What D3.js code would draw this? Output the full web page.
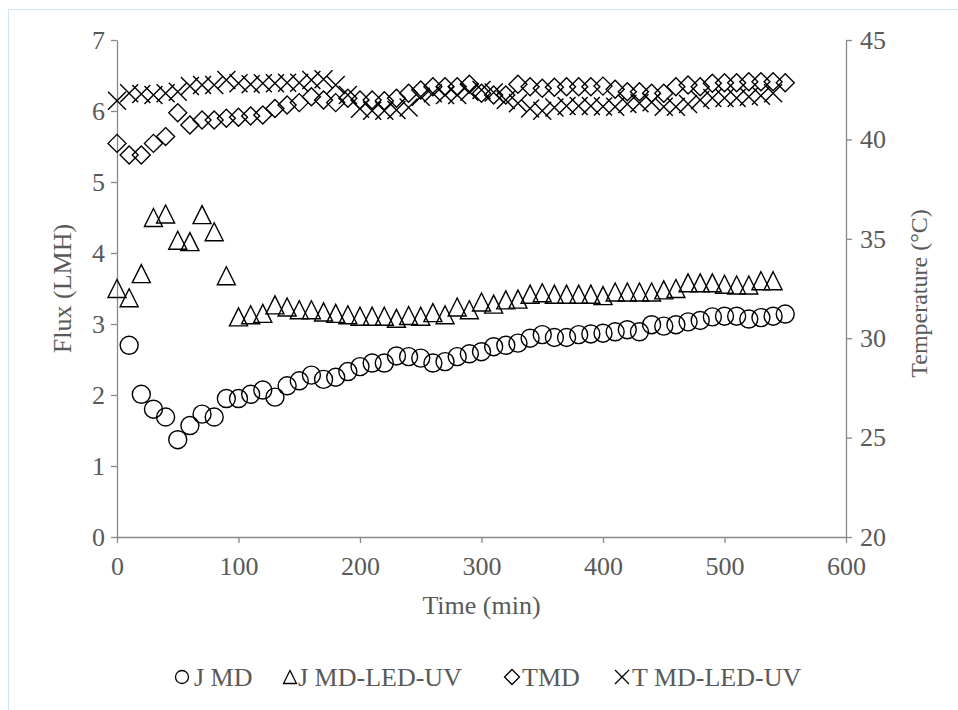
<!DOCTYPE html>
<html>
<head>
<meta charset="utf-8">
<script src="https://cdn.jsdelivr.net/npm/d3@7"></script>
<style>
  html, body { margin: 0; padding: 0; background: #fff; }
  text { font-family: "Liberation Serif", "Times New Roman", serif; }
</style>
</head>
<body>
<div id="chart"></div>
<script>
// J MD flux (LMH), circles
const jmdTime = [10, 20, 30, 40, 50, 60, 70, 80, 90, 100, 110, 120, 130, 140, 150, 160, 170, 180, 190, 200,
  210, 220, 230, 240, 250, 260, 270, 280, 290, 300, 310, 320, 330, 340, 350, 360, 370, 380, 390, 400,
  410, 420, 430, 440, 450, 460, 470, 480, 490, 500, 510, 520, 530, 540, 550]
const jmdFlux = [2.70, 2.01, 1.80, 1.69, 1.37, 1.57, 1.73, 1.69, 1.95, 1.95, 2.01, 2.07, 1.97, 2.13, 2.20, 2.28, 2.22, 2.25, 2.33, 2.40,
  2.45, 2.45, 2.55, 2.54, 2.52, 2.45, 2.47, 2.54, 2.58, 2.61, 2.68, 2.70, 2.73, 2.80, 2.85, 2.81, 2.81, 2.85, 2.86, 2.87,
  2.89, 2.92, 2.89, 2.99, 2.97, 2.99, 3.03, 3.05, 3.10, 3.11, 3.11, 3.07, 3.09, 3.11, 3.14]

// J MD-LED-UV flux (LMH), triangles
const ledTime = [0, 10, 20, 30, 40, 50, 60, 70, 80, 90, 100, 110, 120, 130, 140, 150, 160, 170, 180, 190,
  200, 210, 220, 230, 240, 250, 260, 270, 280, 290, 300, 310, 320, 330, 340, 350, 360, 370, 380, 390,
  400, 410, 420, 430, 440, 450, 460, 470, 480, 490, 500, 510, 520, 530, 540]
const ledFlux = [3.50, 3.37, 3.71, 4.50, 4.55, 4.18, 4.16, 4.54, 4.30, 3.68, 3.10, 3.13, 3.15, 3.27, 3.24, 3.20, 3.20, 3.17, 3.15, 3.13,
  3.11, 3.11, 3.11, 3.08, 3.12, 3.11, 3.16, 3.13, 3.24, 3.20, 3.31, 3.28, 3.34, 3.35, 3.42, 3.44, 3.42, 3.42, 3.42, 3.42,
  3.40, 3.45, 3.45, 3.45, 3.45, 3.48, 3.50, 3.58, 3.58, 3.58, 3.56, 3.55, 3.55, 3.61, 3.61]

// TMD temperature (°C), diamonds
const tmdTime = [0, 10, 20, 30, 40, 50, 60, 70, 80, 90, 100, 110, 120, 130, 140, 150, 160, 170, 180, 190,
  200, 210, 220, 230, 240, 250, 260, 270, 280, 290, 300, 310, 320, 330, 340, 350, 360, 370, 380, 390,
  400, 410, 420, 430, 440, 450, 460, 470, 480, 490, 500, 510, 520, 530, 540, 550]
const tmdTemp = [39.80, 39.22, 39.22, 39.80, 40.14, 41.34, 40.72, 40.98, 40.98, 41.06, 41.11, 41.18, 41.23, 41.56, 41.73, 41.85, 42.15, 41.98, 41.85, 42.07,
  41.98, 41.98, 41.95, 42.07, 42.32, 42.49, 42.65, 42.65, 42.65, 42.77, 42.32, 42.23, 42.23, 42.77, 42.65, 42.57, 42.62, 42.65, 42.65, 42.65,
  42.68, 42.52, 42.40, 42.40, 42.32, 42.32, 42.65, 42.74, 42.65, 42.82, 42.85, 42.85, 42.90, 42.90, 42.90, 42.85]

// T MD-LED-UV temperature (°C), crosses
const tledTime = [0, 10, 20, 30, 40, 50, 60, 70, 80, 90, 100, 110, 120, 130, 140, 150, 160, 170, 180, 190,
  200, 210, 220, 230, 240, 250, 260, 270, 280, 290, 300, 310, 320, 330, 340, 350, 360, 370, 380, 390,
  400, 410, 420, 430, 440, 450, 460, 470, 480, 490, 500, 510, 520, 530, 540]
const tledTemp = [41.95, 42.32, 42.28, 42.23, 42.32, 42.40, 42.69, 42.74, 42.74, 42.99, 42.82, 42.77, 42.82, 42.82, 42.85, 42.85, 42.99, 43.02, 42.74, 42.23,
  41.54, 41.44, 41.44, 41.48, 41.61, 42.15, 42.32, 42.23, 42.23, 42.40, 42.49, 42.36, 41.98, 41.82, 41.56, 41.44, 41.61, 41.68, 41.68, 41.68,
  41.66, 41.64, 41.78, 41.82, 41.87, 41.64, 41.64, 41.78, 41.98, 42.08, 42.08, 42.08, 42.15, 42.20, 42.32]

const xTicks = [0, 100, 200, 300, 400, 500, 600]
const fluxTicks = [0, 1, 2, 3, 4, 5, 6, 7]
const tempTicks = [20, 25, 30, 35, 40, 45]
const seriesNames = ['J MD', 'J MD-LED-UV', 'TMD', 'T MD-LED-UV']

const W = 958, H = 710
const plot = { left: 117, right: 846, top: 40, bottom: 537 }
const axisColor = '#898989'
const textColor = '#595959'
const fontSize = 26

const svg = d3.select('#chart').append('svg')
  .attr('width', W).attr('height', H)

// light chart border
svg.append('rect')
  .attr('x', 8.5).attr('y', 9.5)
  .attr('width', W + 20).attr('height', H + 20)
  .attr('fill', '#fff')
  .attr('stroke', '#d5e3f1')

const x = d3.scaleLinear().domain([0, 600]).range([plot.left, plot.right])
const yFlux = d3.scaleLinear().domain([0, 7]).range([plot.bottom, plot.top])
const yTemp = d3.scaleLinear().domain([20, 45]).range([plot.bottom, plot.top])

function styleAxis(ax) {
  ax.select('.domain').attr('stroke', axisColor).attr('stroke-width', 1.3)
  ax.selectAll('.tick line').attr('stroke', axisColor).attr('stroke-width', 1.3)
  ax.selectAll('text').attr('fill', textColor).attr('font-size', fontSize)
    .attr('font-family', '"Liberation Serif", "Times New Roman", serif')
}

svg.append('g')
  .attr('transform', `translate(${plot.left},0)`)
  .call(d3.axisLeft(yFlux).tickValues(fluxTicks).tickFormat(d3.format('d'))
    .tickSize(6).tickSizeOuter(0).tickPadding(6))
  .call(styleAxis)

svg.append('g')
  .attr('transform', `translate(${plot.right},0)`)
  .call(d3.axisRight(yTemp).tickValues(tempTicks).tickFormat(d3.format('d'))
    .tickSize(6).tickSizeOuter(0).tickPadding(8))
  .call(styleAxis)

svg.append('g')
  .attr('transform', `translate(0,${plot.bottom})`)
  .call(d3.axisBottom(x).tickValues(xTicks).tickFormat(d3.format('d'))
    .tickSize(6).tickSizeOuter(0))
  .call(styleAxis)
  .call(ax => ax.selectAll('text').attr('y', 38).attr('dy', 0))

// axis titles
svg.append('text')
  .attr('x', (plot.left + plot.right) / 2).attr('y', 614)
  .attr('text-anchor', 'middle')
  .attr('fill', textColor).attr('font-size', fontSize)
  .text('Time (min)')

svg.append('text')
  .attr('transform', `translate(71,${(plot.top + plot.bottom) / 2}) rotate(-90)`)
  .attr('text-anchor', 'middle')
  .attr('fill', textColor).attr('font-size', fontSize)
  .text('Flux (LMH)')

svg.append('text')
  .attr('transform', `translate(927,${(plot.top + plot.bottom) / 2 + 5}) rotate(-90)`)
  .attr('text-anchor', 'middle')
  .attr('fill', textColor).attr('font-size', 24)
  .text('Temperature (\u00B0C)')

// marker shapes
const triangleType = {
  draw(ctx, size) {
    const s = Math.sqrt(size)
    ctx.moveTo(0, -s / 2)
    ctx.lineTo(s / 2, s / 2)
    ctx.lineTo(-s / 2, s / 2)
    ctx.closePath()
  }
}
const diamondType = {
  draw(ctx, size) {
    const r = Math.sqrt(size) / 2
    ctx.moveTo(0, -r)
    ctx.lineTo(r, 0)
    ctx.lineTo(0, r)
    ctx.lineTo(-r, 0)
    ctx.closePath()
  }
}
const crossType = {
  draw(ctx, size) {
    const r = Math.sqrt(size) / 2
    ctx.moveTo(-r, -r)
    ctx.lineTo(r, r)
    ctx.moveTo(r, -r)
    ctx.lineTo(-r, r)
  }
}

const series = [
  { name: seriesNames[0], t: jmdTime, v: jmdFlux, y: yFlux, type: d3.symbolCircle, size: Math.PI * 9 * 9, legendSize: Math.PI * 6.5 * 6.5 },
  { name: seriesNames[1], t: ledTime, v: ledFlux, y: yFlux, type: triangleType, size: 18 * 18, legendSize: 13 * 13 },
  { name: seriesNames[2], t: tmdTime, v: tmdTemp, y: yTemp, type: diamondType, size: 18 * 18, legendSize: 15 * 15 },
  { name: seriesNames[3], t: tledTime, v: tledTemp, y: yTemp, type: crossType, size: 18 * 18, legendSize: 14 * 14 }
]

const marks = svg.append('g')
series.slice().reverse().forEach(s => {
  const pts = s.t.map((t, i) => ({ t, v: s.v[i] }))
  marks.append('g').selectAll('path')
    .data(pts)
    .enter().append('path')
    .attr('transform', d => `translate(${x(d.t)},${s.y(d.v)})`)
    .attr('d', d3.symbol().type(s.type).size(s.size))
    .attr('fill', 'none')
    .attr('stroke', '#000')
    .attr('stroke-width', 1.4)
})

// legend
const legendPos = [
  { mx: 182, tx: 194 },
  { mx: 290, tx: 298 },
  { mx: 512, tx: 522 },
  { mx: 622, tx: 632 }
]
const legend = svg.append('g')
series.forEach((s, i) => {
  legend.append('path')
    .attr('transform', `translate(${legendPos[i].mx},677)`)
    .attr('d', d3.symbol().type(s.type).size(s.legendSize))
    .attr('fill', 'none')
    .attr('stroke', '#000')
    .attr('stroke-width', 1.3)
  legend.append('text')
    .attr('x', legendPos[i].tx).attr('y', 686)
    .attr('fill', textColor).attr('font-size', fontSize)
    .text(s.name)
})
</script>
</body>
</html>
